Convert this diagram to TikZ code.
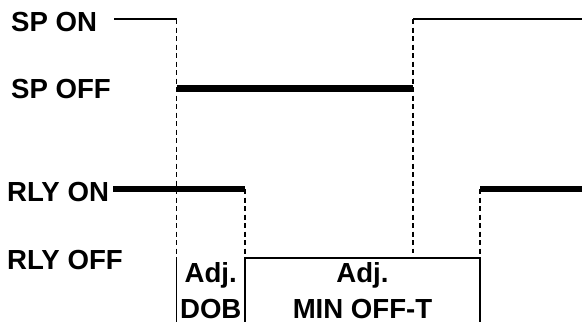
\documentclass[tikz,border=0pt]{standalone}
\usepackage{fontspec}
\setmainfont{Liberation Sans}
\usepackage{tikz}
\usetikzlibrary{positioning,calc}

\begin{document}
\begin{tikzpicture}[
  x=1pt, y=-1pt,
  lbl/.style={inner sep=0pt, font=\fontsize{27.6}{30}\selectfont\bfseries},
  thinline/.style={line width=1.7pt},
  thickline/.style={line width=6.5pt},
  guide/.style={line width=1.4pt, dash pattern=on 5pt off 3.5pt},
  boxline/.style={line width=1.7pt}
]
  \useasboundingbox (0,0) rectangle (582,322);

  % left labels
  \node[lbl, anchor=base west] (spon) at (11,31) {SP ON};
  \node[lbl, anchor=base west] (spoff) at (11,98) {SP OFF};
  \node[lbl, anchor=base west] (rlyon) at (7,201) {RLY ON};
  \node[lbl, anchor=base west] (rlyoff) at (7,269) {RLY OFF};

  % switching points
  \coordinate (sp0) at (114,19);
  \coordinate (sp1) at (176.5,19);
  \coordinate (sp1l) at (176.5,88.5);
  \coordinate (sp2l) at (413,88.5);
  \coordinate (sp2) at (413,19);
  \coordinate (sp3) at (582,19);
  \coordinate (ry0) at (113,189);
  \coordinate (ry1) at (245,189);
  \coordinate (ry1l) at (245,258);
  \coordinate (ry2l) at (480,258);
  \coordinate (ry2) at (480,189);
  \coordinate (ry3) at (582,189);
  \coordinate (g1) at (176.5,258);
  \coordinate (g1b) at (176.5,322);
  \coordinate (g2b) at (245,322);
  \coordinate (g3b) at (480,322);
  \coordinate (g4) at (413,253);

  % setpoint
  \draw[thinline] (sp0) -- (sp1);
  \draw[guide] (sp1) -- (g1);
  \draw[thickline] (sp1l) -- (sp2l);
  \draw[guide] (sp2) -- (g4);
  \draw[thinline] (sp2) -- (sp3);

  % relay
  \draw[thickline] (ry0) -- (ry1);
  \draw[guide] (ry1) -- (ry1l);
  \draw[thinline] (ry1l) -- (ry2l);
  \draw[guide] (ry2) -- (ry2l);
  \draw[thickline] (ry2) -- (ry3);

  % delay boxes
  \draw[boxline] (g1) -- (g1b);
  \draw[boxline] (ry1l) -- (g2b);
  \draw[boxline] (ry2l) -- (g3b);

  \node[lbl, anchor=base] (dobadj) at (210.75,282) {Adj.};
  \node[lbl, anchor=base] (dob) at (210.75,318) {DOB};
  \node[lbl, anchor=base] (minadj) at (362.5,282) {Adj.};
  \node[lbl, anchor=base] (minoff) at (362.5,318) {MIN OFF-T};
\end{tikzpicture}
\end{document}
